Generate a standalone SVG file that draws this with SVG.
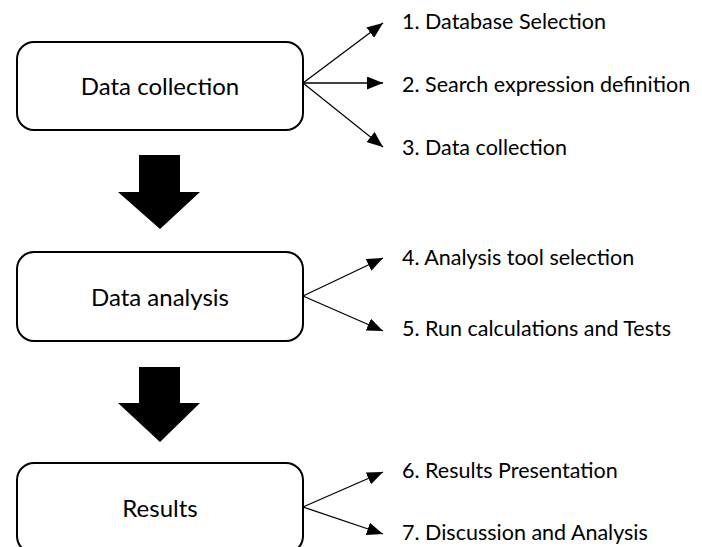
<svg xmlns="http://www.w3.org/2000/svg" width="702" height="547" viewBox="0 0 702 547">
<style>
.box{fill:#fff;stroke:#000;stroke-width:2}
.bt{font-family:Lato,"Liberation Sans",sans-serif;font-size:24px;fill:#000;text-anchor:middle}
.lt{font-family:Lato,"Liberation Sans",sans-serif;font-size:21.5px;fill:#000}
.ln{stroke:#000;stroke-width:1.3;fill:none;marker-end:url(#ah)}
.blk{fill:#000}
</style>
<defs>
<marker id="ah" markerUnits="userSpaceOnUse" markerWidth="17" markerHeight="13" refX="16" refY="6.5" orient="auto" viewBox="0 0 17 13">
<path d="M0,0 L16,6.5 L0,13 z" fill="#000"/>
</marker>
</defs>
<rect width="702" height="547" fill="#fff"/>
<g id="node-data-collection">
<rect class="box" x="17" y="42" width="286" height="88" rx="17"/>
<text class="bt" x="160" y="95">Data collection</text>
</g>
<g id="node-data-analysis">
<rect class="box" x="17" y="252" width="286" height="89" rx="17"/>
<text class="bt" x="160" y="306">Data analysis</text>
</g>
<g id="node-results">
<rect class="box" x="17" y="463" width="286" height="90" rx="17"/>
<text class="bt" x="160" y="517">Results</text>
</g>
<g id="labels">
<text class="lt" x="402" y="29">1. Database Selection</text>
<text class="lt" x="402" y="92">2. Search expression definition</text>
<text class="lt" x="402" y="155">3. Data collection</text>
<text class="lt" x="402" y="265">4. Analysis tool selection</text>
<text class="lt" x="402" y="336">5. Run calculations and Tests</text>
<text class="lt" x="402" y="478">6. Results Presentation</text>
<text class="lt" x="402" y="540">7. Discussion and Analysis</text>
</g>
<g id="connectors">
<line class="ln" x1="303" y1="83" x2="383" y2="23"/>
<line class="ln" x1="303" y1="83" x2="383" y2="83"/>
<line class="ln" x1="303" y1="83" x2="383" y2="147"/>
<line class="ln" x1="303" y1="296" x2="383" y2="258"/>
<line class="ln" x1="303" y1="296" x2="383" y2="331"/>
<line class="ln" x1="303" y1="507" x2="383" y2="472"/>
<line class="ln" x1="303" y1="507" x2="383" y2="534"/>
<path class="blk" d="M139,155 H180 V192 H200 L160,229 L118,192 H139 Z"/>
<path class="blk" d="M139,367 H180 V403 H200 L160,442 L118,403 H139 Z"/>
</g>
</svg>
